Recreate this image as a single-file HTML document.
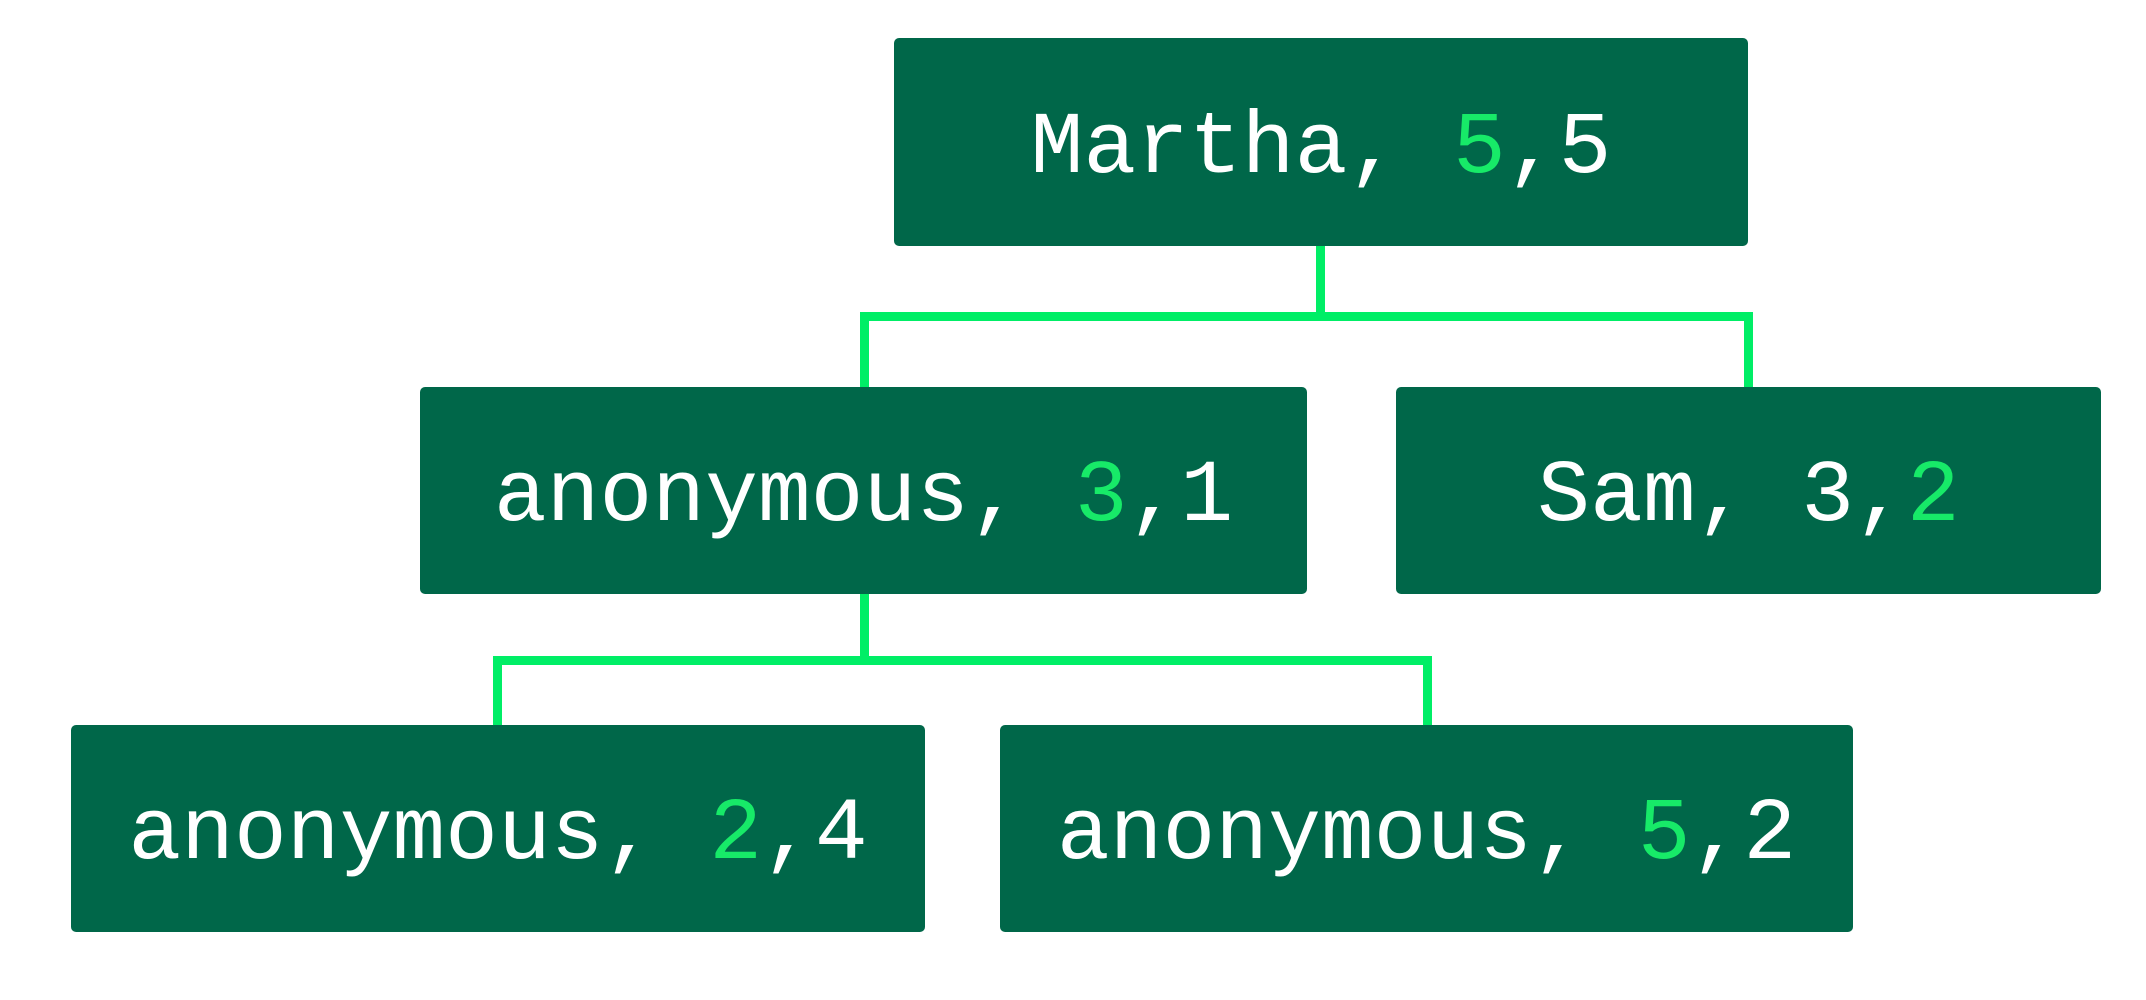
<!DOCTYPE html>
<html><head><style>
html,body{margin:0;padding:0;background:#fff;width:2146px;height:1000px;overflow:hidden;position:relative}
.b{position:absolute;box-sizing:border-box;padding-top:14px;background:#006749;border-radius:5px;display:flex;align-items:center;justify-content:center;color:#fff;font-family:"Liberation Mono",monospace;font-size:88px;white-space:pre}
.g{color:#17ea68}
.l{position:absolute;background:#00ee66}
</style></head><body>
<div class="l" style="left:1316px;top:246px;width:9px;height:75px"></div>
<div class="l" style="left:860px;top:312px;width:893px;height:9px"></div>
<div class="l" style="left:860px;top:312px;width:9px;height:76px"></div>
<div class="l" style="left:1744px;top:312px;width:9px;height:76px"></div>
<div class="l" style="left:860px;top:593px;width:9px;height:71px"></div>
<div class="l" style="left:493px;top:656px;width:939px;height:9px"></div>
<div class="l" style="left:493px;top:656px;width:9px;height:70px"></div>
<div class="l" style="left:1423px;top:656px;width:9px;height:70px"></div>
<div class="b" style="left:894px;top:38px;width:854px;height:208px">Martha, <span class="g">5</span>,5</div>
<div class="b" style="left:420px;top:387px;width:887px;height:207px">anonymous, <span class="g">3</span>,1</div>
<div class="b" style="left:1396px;top:387px;width:705px;height:207px">Sam, 3,<span class="g">2</span></div>
<div class="b" style="left:71px;top:725px;width:854px;height:207px">anonymous, <span class="g">2</span>,4</div>
<div class="b" style="left:1000px;top:725px;width:853px;height:207px">anonymous, <span class="g">5</span>,2</div>
</body></html>
